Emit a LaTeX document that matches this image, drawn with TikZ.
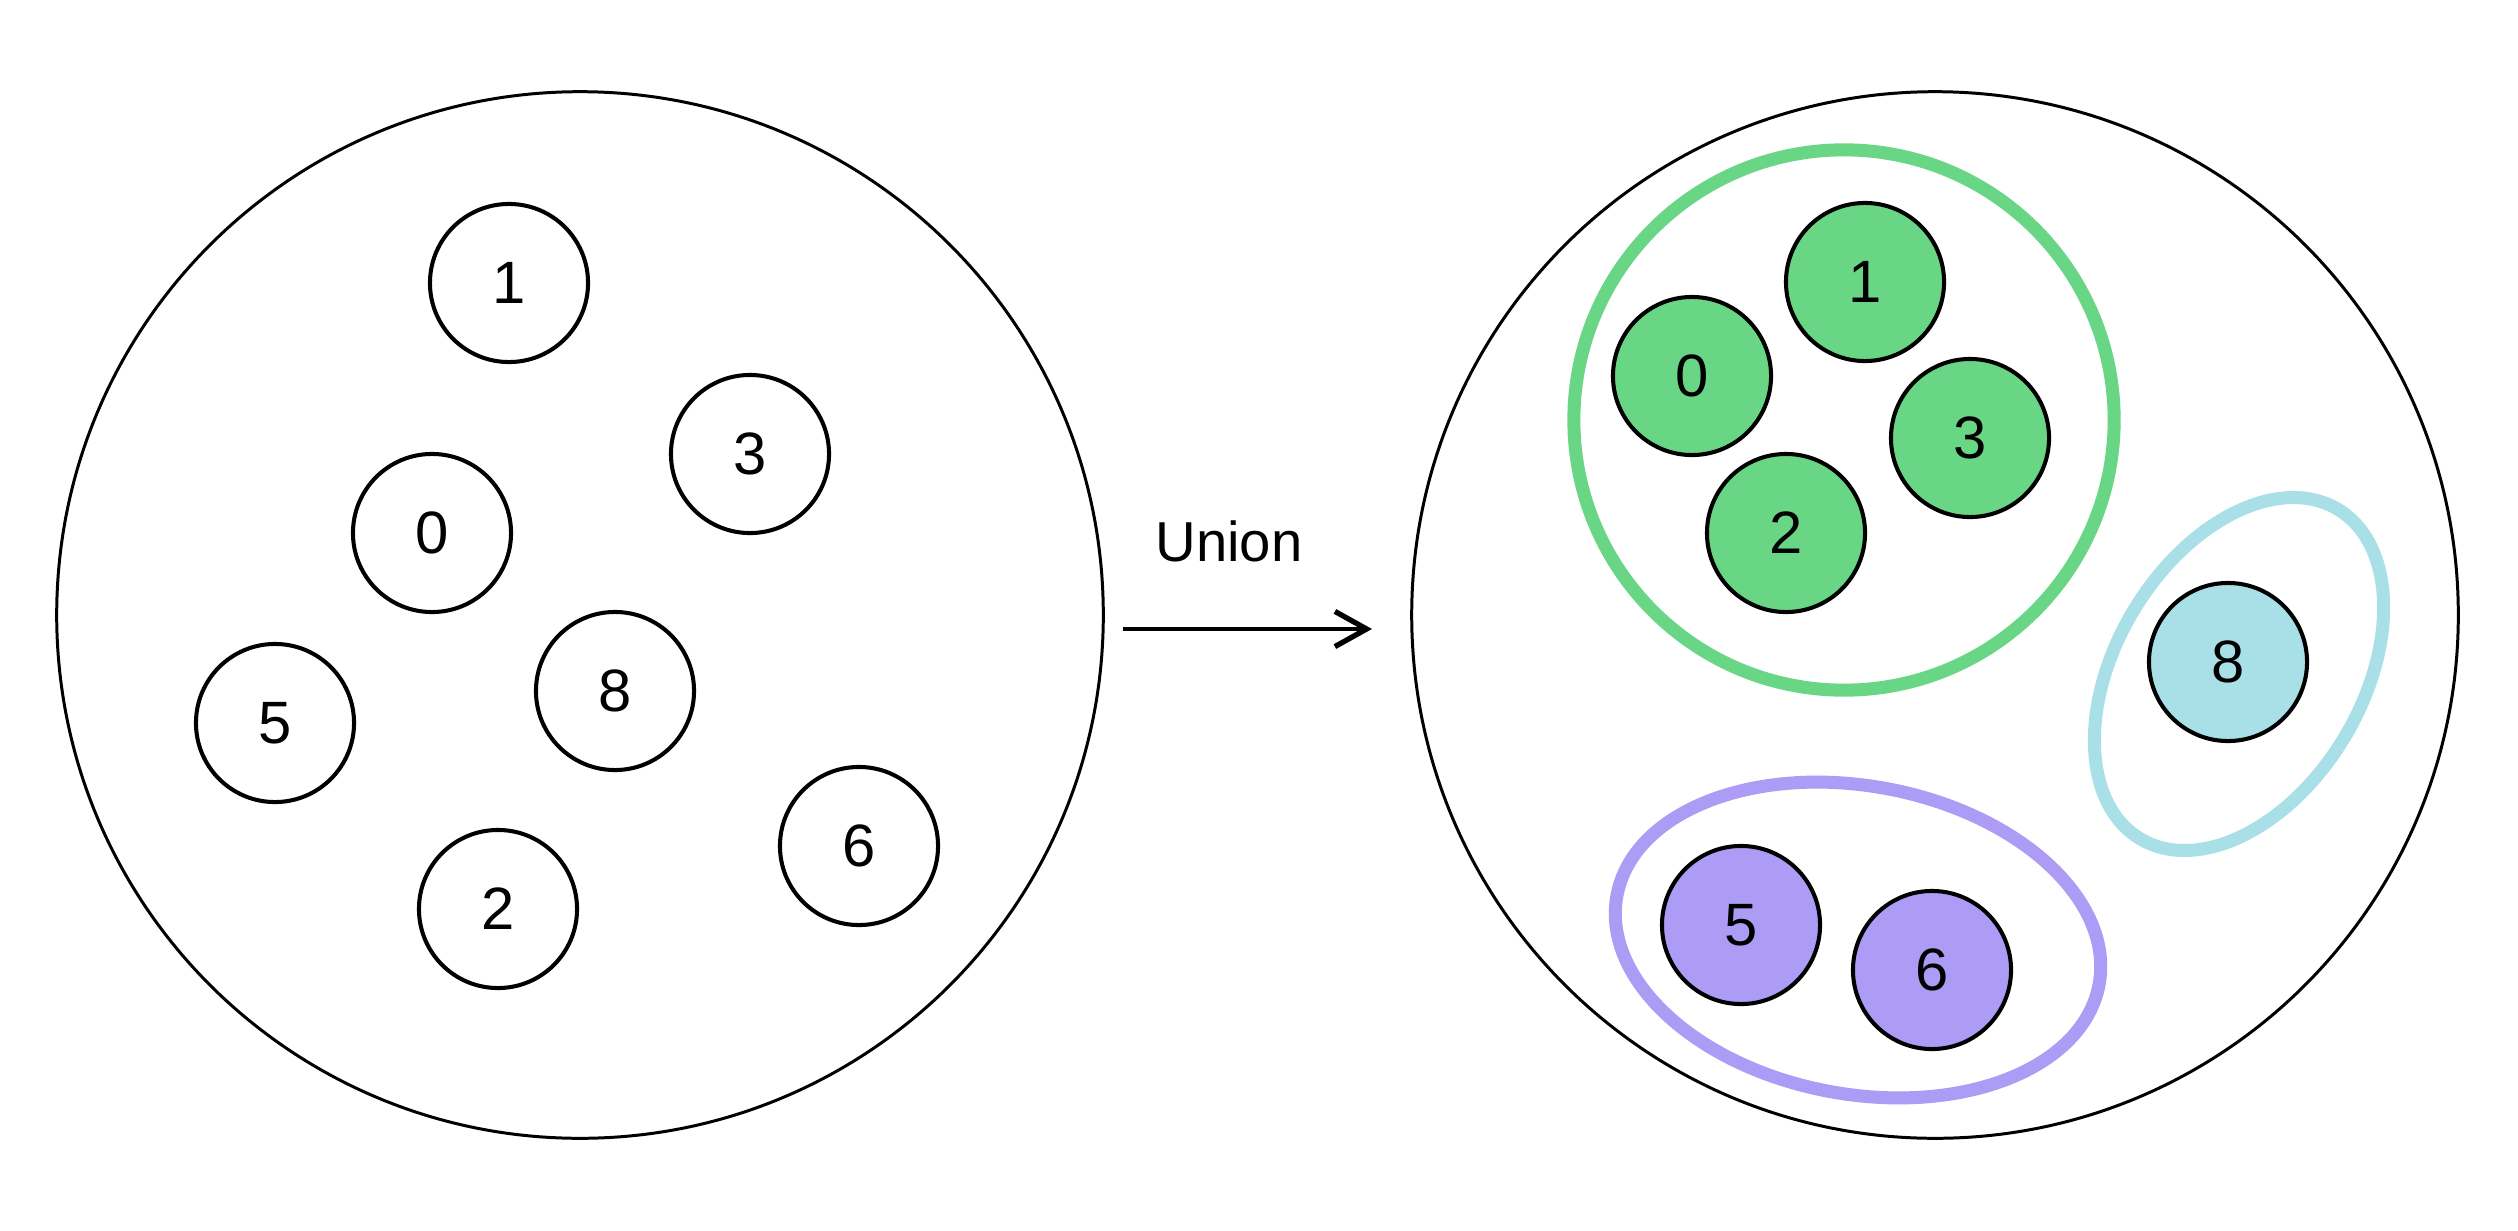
\documentclass[tikz,border=0pt]{standalone}
\usepackage{fontspec}
\setmainfont{Liberation Sans}
\usetikzlibrary{shapes.geometric,arrows.meta}
\definecolor{ggreen}{HTML}{69D685}
\definecolor{gcyan}{HTML}{A9E0E8}
\definecolor{gpurple}{HTML}{AC9CF5}
\begin{document}
\begin{tikzpicture}[x=0.01cm,y=-0.01cm,
  elem/.style={circle,draw=black,line width=1.15pt,minimum size=1.58cm,inner sep=0pt,font=\fontsize{17}{20}\selectfont},
  bigset/.style={circle,draw=black,line width=0.85pt,minimum size=10.46cm,inner sep=0pt},
  ring/.style={line width=3.7pt,inner sep=0pt}]
\fill[white] (0,0) rectangle (2518,1230);
% left set
\node[bigset] (L) at (580,615) {};
\node[elem] (l1) at (509,283) {1};
\node[elem] (l3) at (750,454) {3};
\node[elem] (l0) at (432,533) {0};
\node[elem] (l8) at (615,691) {8};
\node[elem] (l5) at (275,723) {5};
\node[elem] (l6) at (859,846) {6};
\node[elem] (l2) at (498,909) {2};
% arrow
\coordinate (a0) at (1123,629);
\coordinate (a1) at (1372,629);
\draw[line width=0.95pt,-{Straight Barb[length=9pt,width=10pt,line width=1.5pt]}] (a0) -- (a1);
\node[font=\fontsize{16}{19}\selectfont] (U) at (1229,541) {Union};
% right set
\node[bigset] (R) at (1935,615) {};
\node[ring,circle,draw=ggreen,minimum size=5.4cm] (G) at (1844,420) {};
\node[ring,ellipse,draw=gcyan,minimum width=3.84cm,minimum height=2.46cm,rotate=59] (C) at (2239,674) {};
\node[ring,ellipse,draw=gpurple,minimum width=4.9cm,minimum height=3.08cm,rotate=-10.4] (P) at (1858,940) {};
\node[elem,fill=ggreen] (r1) at (1865,282) {1};
\node[elem,fill=ggreen] (r0) at (1692,376) {0};
\node[elem,fill=ggreen] (r3) at (1970,438) {3};
\node[elem,fill=ggreen] (r2) at (1786,533) {2};
\node[elem,fill=gcyan] (r8) at (2228,662) {8};
\node[elem,fill=gpurple] (r5) at (1741,925) {5};
\node[elem,fill=gpurple] (r6) at (1932,970) {6};
\end{tikzpicture}
\end{document}
